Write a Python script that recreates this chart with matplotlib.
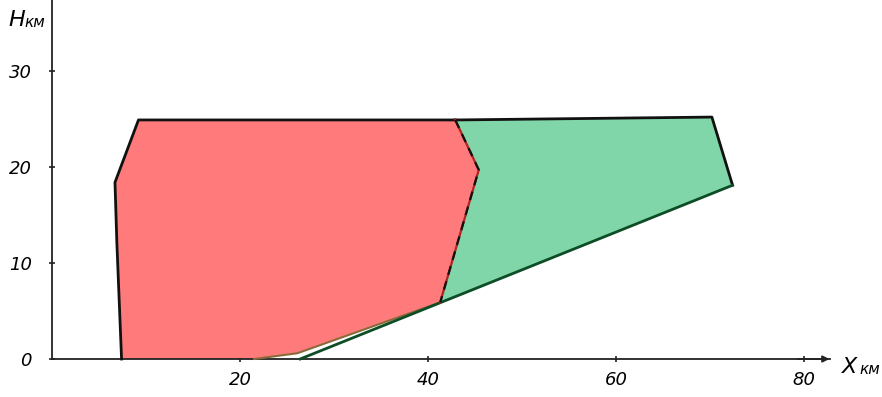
import matplotlib
matplotlib.use("Agg")
import matplotlib.pyplot as plt

# zone boundaries (X km, H km)
red_x = [7.4, 6.9, 6.7, 9.2, 42.9, 45.4, 41.3, 26.1, 21.5]
red_h = [0.0, 12.1, 18.4, 24.9, 24.9, 19.7, 5.9, 0.6, 0.0]

green_x = [42.9, 70.2, 72.4, 26.4, 41.3, 45.4]
green_h = [24.9, 25.2, 18.1, 0.0, 5.9, 19.7]

# dashed border between the two zones
mid_x = [42.9, 45.4, 41.3]
mid_h = [24.9, 19.7, 5.9]

xticks = [20, 40, 60, 80]
yticks = [0, 10, 20, 30]

fig = plt.figure(figsize=(8.82, 3.97), dpi=100)
ax = fig.add_axes([0, 0, 1, 1])
ax.set_xlim(-52 / 9.4, (882 - 52) / 9.4)
ax.set_ylim(-38 / 9.6, 359 / 9.6)

ax.fill(red_x, red_h, color="#ff7b7b", lw=0, zorder=2)
ax.fill(green_x, green_h, color="#80d6a8", lw=0, zorder=2)

# outlines
ax.plot(red_x[:5], red_h[:5], color="#111111", lw=2, zorder=4)
ax.plot(green_x[:3], green_h[:3], color="#111111", lw=2, zorder=4)
ax.plot(green_x[2:4], green_h[2:4], color="#0d4d26", lw=2, zorder=4)
ax.plot(red_x[6:], red_h[6:], color="#8a6a3a", lw=1.5, zorder=3)
ax.plot(mid_x, mid_h, color="#b22222", lw=1.6, zorder=4)
ax.plot(mid_x, mid_h, color="#111111", lw=1.6, ls=(0, (4, 3)), zorder=5)

# hand-drawn style axes
for s in ["top", "right"]:
    ax.spines[s].set_visible(False)
ax.spines["left"].set_position(("data", 0))
ax.spines["bottom"].set_position(("data", 0))
ax.spines["left"].set_bounds(0, 37.4)
ax.spines["bottom"].set_bounds(0, 82.8)
ax.spines["left"].set_color("#222222")
ax.spines["bottom"].set_color("#222222")
ax.spines["left"].set_linewidth(1.3)
ax.spines["bottom"].set_linewidth(1.3)
ax.annotate("", xy=(83, 0), xytext=(79, 0),
            arrowprops=dict(arrowstyle="-|>", color="#222222", lw=1.2))
ax.annotate("", xy=(0, 37.6), xytext=(0, 35),
            arrowprops=dict(arrowstyle="-|>", color="#222222", lw=1.2))

ax.set_xticks(xticks)
ax.set_yticks(yticks)
ax.set_xticklabels([str(v) for v in xticks], fontsize=13, style="italic")
ax.set_yticklabels([str(v) for v in yticks], fontsize=13, style="italic")
ax.tick_params(axis="x", direction="inout", length=5, width=1.2, color="#222222", pad=6)
ax.tick_params(axis="y", direction="inout", length=5, width=1.2, color="#222222", pad=12)

ax.text(-4.6, 35.3, "H", fontsize=16, style="italic", ha="left", va="center")
ax.text(-2.9, 35.1, "км", fontsize=11, style="italic", ha="left", va="center")
ax.text(84.0, -0.8, "X", fontsize=16, style="italic", ha="left", va="center")
ax.text(85.9, -1.1, "км", fontsize=11, style="italic", ha="left", va="center")

fig.savefig("out.png", dpi=100)
